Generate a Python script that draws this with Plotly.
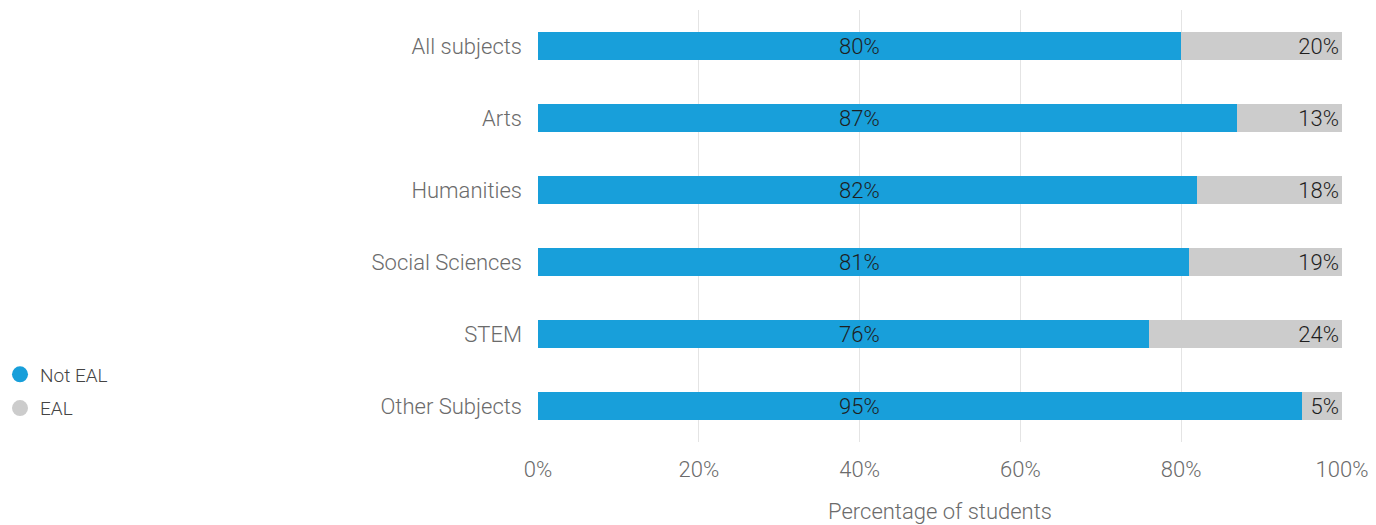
import plotly.graph_objects as go

# Share of students by subject group, split by English as an Additional Language
subjects = ["All subjects", "Arts", "Humanities", "Social Sciences", "STEM", "Other Subjects"]
not_eal = [80, 87, 82, 81, 76, 95]
eal = [20, 13, 18, 19, 24, 5]
x_ticks = [0, 20, 40, 60, 80, 100]
x_tick_labels = ["0%", "20%", "40%", "60%", "80%", "100%"]

BLUE = "#189fda"
GREY = "#cccccc"
FONT = "Roboto"
WEIGHT = 300
SIZE = 22
LABEL_X = 40  # blue-segment labels sit in a common column

fig = go.Figure()

fig.add_trace(go.Bar(
    y=subjects, x=not_eal, orientation="h", name="Not EAL",
    marker=dict(color=BLUE, line=dict(width=0)), width=0.4,
    showlegend=False, hoverinfo="skip",
))
fig.add_trace(go.Bar(
    y=subjects, x=eal, orientation="h", name="EAL",
    marker=dict(color=GREY, line=dict(width=0)), width=0.4,
    text=[f"{v}%" for v in eal], textposition="inside", insidetextanchor="end",
    textfont=dict(family=FONT, size=SIZE, color="#1e1e1e", weight=WEIGHT),
    constraintext="none", showlegend=False, hoverinfo="skip",
))

# legend entries drawn as round markers
for name, col in [("Not EAL", BLUE), ("EAL", GREY)]:
    fig.add_trace(go.Scatter(
        x=[None], y=[None], mode="markers", name=name, legendgroup=name,
        marker=dict(color=col, size=18, symbol="circle"),
    ))

for subj, v in zip(subjects, not_eal):
    fig.add_annotation(
        x=LABEL_X, y=subj, text=f"{v}%", showarrow=False,
        font=dict(family=FONT, size=SIZE, color="#1e1e1e", weight=WEIGHT),
    )

fig.update_layout(
    width=1376, height=525,
    barmode="stack", bargap=0.6,
    plot_bgcolor="white", paper_bgcolor="white",
    margin=dict(l=538, r=34, t=10, b=83),
    font=dict(family=FONT, size=SIZE, color="#6b6b6b", weight=WEIGHT),
    xaxis=dict(
        range=[0, 100], tickvals=x_ticks, ticktext=x_tick_labels,
        showgrid=True, gridcolor="#e4e4e4", gridwidth=1, zeroline=False,
        showline=False, ticks="", ticklabelstandoff=12, automargin=False,
        tickfont=dict(family=FONT, size=SIZE, color="#6b6b6b", weight=WEIGHT),
        title=dict(text="Percentage of students", standoff=22,
                   font=dict(family=FONT, size=SIZE, color="#6b6b6b", weight=WEIGHT)),
    ),
    yaxis=dict(
        categoryorder="array", categoryarray=subjects, autorange="reversed",
        showgrid=False, zeroline=False, showline=False, ticks="",
        ticklabelstandoff=15, automargin=False,
        tickfont=dict(family=FONT, size=SIZE, color="#6b6b6b", weight=WEIGHT),
    ),
    legend=dict(
        xref="container", yref="container", x=0.0, y=0.2543,
        xanchor="left", yanchor="middle", itemsizing="trace",
        traceorder="grouped", tracegroupgap=6,
        font=dict(family=FONT, size=19, color="#444444", weight=WEIGHT),
        bgcolor="rgba(0,0,0,0)",
    ),
)

fig.write_html("out.html")
